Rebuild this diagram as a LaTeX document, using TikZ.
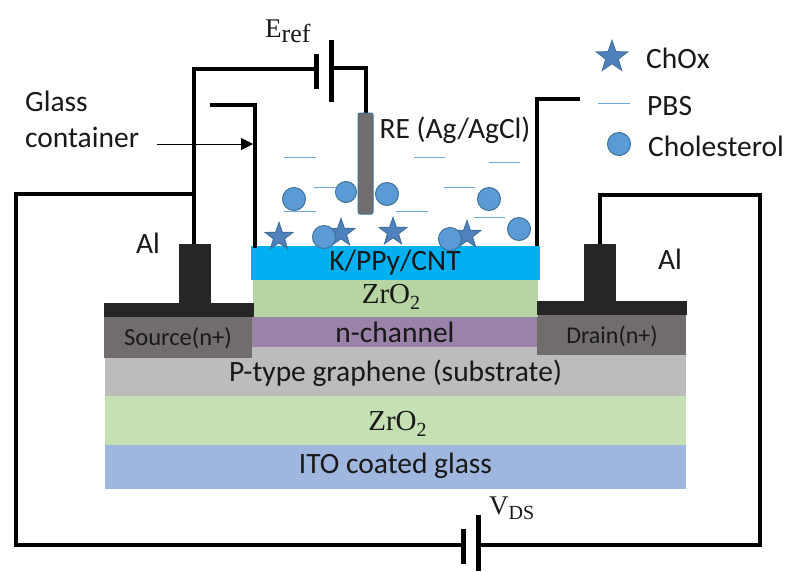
\documentclass[tikz,border=0pt]{standalone}
\usepackage{fontspec}
\setmainfont{Carlito}
\newfontfamily\mathser{Liberation Serif}
\usetikzlibrary{shapes.geometric,arrows.meta}
\definecolor{starblue}{HTML}{4F81BD}
\definecolor{dotblue}{HTML}{5B9BD5}
\definecolor{dotedge}{HTML}{41719C}
\definecolor{dashblue}{HTML}{6FA8DC}
\definecolor{alblack}{HTML}{262626}
\definecolor{sdgray}{HTML}{716D6C}
\definecolor{kblue}{HTML}{00B0F0}
\definecolor{zrone}{HTML}{B7D5A2}
\definecolor{zrtwo}{HTML}{C5E0B3}
\definecolor{nch}{HTML}{9B82A8}
\definecolor{pgray}{HTML}{BCBCBC}
\definecolor{ito}{HTML}{9FB6DE}
\newcommand{\fs}[1]{\fontsize{#1}{#1}\selectfont}
\newcommand{\subz}[2]{\raisebox{-0.2em}{\fs{#1}#2}}
\tikzset{
  x=1pt,y=-1pt,
  layer/.style={draw=none,inner sep=0pt,anchor=north west,align=center,text=black!90},
  wire/.style={draw=black,line width=4.6pt,line join=miter},
  plate/.style={draw=black,line width=5pt},
  pbs/.style={draw=dashblue,line width=0.9pt},
  dot/.style={circle,draw=dotedge,fill=dotblue,line width=1pt,minimum size=23pt,inner sep=0pt},
  starmark/.style={star,star points=5,star point ratio=2.5,draw=dotedge,fill=starblue,line width=1pt,minimum size=29pt,inner sep=0pt},
  lab/.style={inner sep=0pt,text=black!90,font=\fs{29.5}},
}
\newcommand{\layerbox}[7]{% name x y w h colour text
  \node[layer,fill=#6,minimum width=#4pt,minimum height=#5pt] (#1) at (#2,#3) {#7};}
\begin{document}
\begin{tikzpicture}
\useasboundingbox (0,0) rectangle (785,571);
\fill[white] (0,0) rectangle (785,571);

% layers
\layerbox{ito}{105}{445}{581}{44}{ito}{}
\layerbox{zrlow}{105}{396}{581}{49}{zrtwo}{}
\layerbox{ptype}{105}{347}{581}{49}{pgray}{}
\layerbox{source}{104}{317}{148}{41}{sdgray}{}
\layerbox{drain}{537}{315}{149}{40}{sdgray}{}
\layerbox{nchan}{252}{316.5}{285}{30.5}{nch}{}
\layerbox{zrup}{253}{280}{285}{36.5}{zrone}{}
\layerbox{kppy}{251}{246}{288.5}{34}{kblue}{}
\layerbox{srcbar}{104}{303}{150}{14}{alblack}{}
\layerbox{drnbar}{537}{301}{150}{14}{alblack}{}
\layerbox{srcstem}{179}{244}{32}{59}{alblack}{}
\layerbox{drnstem}{584}{244}{32}{57}{alblack}{}

\node[lab] (tito) at (395.5,466) {ITO coated glass};
\node[lab,font=\mathser\fs{29}] (tzrlow) at (397.5,424) {ZrO\subz{20}{2}};
\node[lab] (tptype) at (395.5,373) {P-type graphene (substrate)};
\node[lab] (tnch) at (395,332) {n-channel};
\node[lab,font=\mathser\fs{29}] (tzrup) at (391,297) {ZrO\subz{20}{2}};
\node[lab] (tkppy) at (395,263) {K/PPy/CNT};
\node[lab,font=\fs{24.5}] (tsrc) at (178,338) {Source(n+)};
\node[lab,font=\fs{24}] (tdrn) at (612,336) {Drain(n+)};
\node[lab] (tal1) at (148,243) {Al};
\node[lab] (tal2) at (670,259) {Al};

% coordinates of wires
\coordinate (gtop) at (194,69);
\coordinate (gbat) at (316,69);
\coordinate (srctap) at (194,244);
\coordinate (srcjoin) at (194,194);
\coordinate (ol) at (16,194);
\coordinate (obl) at (16,545);
\coordinate (vleft) at (463,545);
\coordinate (vright) at (478,545);
\coordinate (obr) at (760,545);
\coordinate (otr) at (760,195);
\coordinate (dtop) at (600,195);
\coordinate (dtap) at (600,244);
\coordinate (ebat) at (331,68);
\coordinate (etop) at (366,68);
\coordinate (ebot) at (366,113);

\draw[wire] (srctap) -- (gtop) -- (gbat);
\draw[wire] (srcjoin) -- (ol) -- (obl) -- (vleft);
\draw[wire] (vright) -- (obr) -- (otr) -- (dtop) -- (dtap);
\draw[wire] (ebat) -- (etop) -- (ebot);
\draw[plate] (316,54) -- (316,89);
\draw[plate] (331,40) -- (331,102);
\draw[plate] (463,529) -- (463,564);
\draw[plate] (478,515) -- (478,571);

% glass container
\coordinate (g1) at (210,105);
\coordinate (g2) at (255,105);
\coordinate (g3) at (255,248);
\coordinate (g4) at (537,246);
\coordinate (g5) at (537,99);
\coordinate (g6) at (580,99);
\draw[wire] (g1) -- (g2) -- (g3);
\draw[wire] (g4) -- (g5) -- (g6);

% reference electrode
\node[draw=dotedge,fill=sdgray,rounded corners=2pt,line width=1pt,minimum width=15pt,minimum height=101pt,inner sep=0pt] (re) at (365.5,163.5) {};

% PBS
\foreach \xa/\xb/\yy in {284/316/157,414/445/157,489/520/162,314/337/187,444/475/187,284/316/211,396/428/211,474/505/217,598/630/103}
  \draw[pbs] (\xa,\yy) -- (\xb,\yy);

% stars
\node[starmark] (s1) at (279,237) {};
\node[starmark] (s2) at (341,233) {};
\node[starmark] (s3) at (393,232) {};
\node[starmark] (s4) at (467,235) {};
\node[starmark,minimum size=33pt] (s5) at (612,57) {};

% cholesterol
\node[dot] (c1) at (294,199) {};
\node[dot,minimum size=21pt] (c2) at (346,192) {};
\node[dot] (c3) at (387,194) {};
\node[dot] (c4) at (489,199) {};
\node[dot] (c5) at (519,229) {};
\node[dot] (c6) at (324,237) {};
\node[dot] (c7) at (450,239) {};
\node[dot] (c8) at (619,144) {};

% labels
\node[lab,align=left,anchor=west] (glass) at (25,119.5) {Glass\\[6pt]container};
\coordinate (arrstart) at (157,144);
\coordinate (arrend) at (253,144);
\draw[black,line width=0.8pt,-{Triangle[length=12pt,width=12pt]}] (arrstart) -- (arrend);
\node[lab] (tre) at (455,130) {RE (Ag/AgCl)};
\node[lab,anchor=west] (tchox) at (646,58) {ChOx};
\node[lab,anchor=west] (tpbs) at (647,106) {PBS};
\node[lab,anchor=west] (tchol) at (648,146) {Cholesterol};
\node[lab,font=\mathser\fs{27},anchor=west] (teref) at (265,31) {E\subz{26}{ref}};
\node[lab,font=\mathser\fs{27},anchor=west] (tvds) at (489,508) {V\subz{20}{DS}};
\end{tikzpicture}
\end{document}
